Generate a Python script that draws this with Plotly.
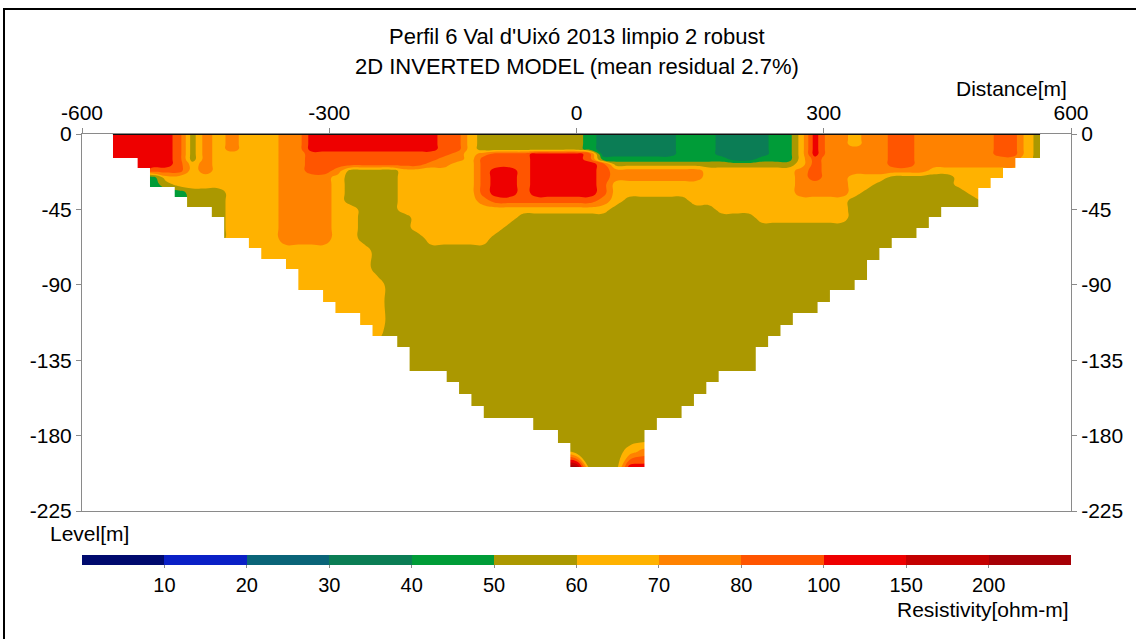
import numpy as np
import plotly.graph_objects as go

# ---------------- data ----------------
title_1 = "Perfil 6 Val d'Uixó 2013 limpio 2 robust"
title_2 = "2D INVERTED MODEL (mean residual 2.7%)"

x_ticks = [-600, -300, 0, 300, 600]
x_ticktext = ["-600", "-300", "0", "300", "600"]
y_ticks = [0, -45, -90, -135, -180, -225]
y_ticktext = ["0", "-45", "-90", "-135", "-180", "-225"]

model_x_min, model_x_max = -562.5, 562.5
n_cols = 71
depths = [0, 3, 6, 9, 12, 15, 18, 22, 26, 30, 35, 40, 45, 50, 56, 62, 70, 80,
          90, 100, 115, 130, 150, 170, 182, 190, 199]

# resistivity (ohm-m) read per grid node, coded by colour band
code_rho = {'s': 35, 'g': 45, 'o': 55, 'a': 65, 'O': 75, 'r': 90,
            'R': 125, 'D': 175, 'K': 225}
O5 = "oooooooooo"
rows = [
    "RRRRRroOaO" "aaaOORRRRR" "RRRRRrraoo" "oooooogsss" "sssgggssss" "ggaROOaOOr" "rOOOOOOrra" "o",
    "RRRRRroOaO" "aaaOORRRRR" "RRRRRrraoo" "oooooogsss" "sssgggssss" "ggaROOaOOr" "rOOOOOOrra" "o",
    "RRRRRroOaO" "aaaOORRRRR" "RRRRRrraoo" "oooooogsss" "sssgggssss" "ggaROOaOOr" "rOOOOOOrra" "o",
    "RRRRRroOaO" "aaaOORRRRR" "RRRRRrraoo" "oooooogsss" "sssgggssss" "ggaROOOOOr" "rOOOOOOrra" "o",
    "RRRRRroOaa" "aaaOOrrrrr" "rrrrrrOaOr" "rrRRRRrsss" "sssgggssss" "ggaROOOOOr" "rOOOOOOrra" "o",
    "RRRRRroOaa" "aaaOOrrrrr" "rrrrrOOarr" "rrRRRRrggg" "gggggggssg" "ggarOOOOOr" "rOOOOOOOOa" "o",
    "RRRRRraOaa" "aaaOOrrrrr" "rrrrOOaarr" "rrRRRRRroo" "oooooooooo" "ooarOOOOOr" "rOOOOOOOOa" "a",
    "RRRrrraOaa" "aaaOOrrOoo" "ooaaaaaarR" "RrRRRRRrOO" "OOOOOaaaaa" "aaOrOOOOOO" "OOaaaaaaaa" "a",
    "rrggaaaaaa" "aaaOOOOaoo" "ooaaaaaarR" "RrRRRRRrOO" "OOOOOaaaaa" "aaOrOOaaao" "ooooaaaaaa" "a",
    "ggggoaaaaa" "aaaOOOOaoo" "ooaaaaaarR" "RrRRRRRraa" "aaaaaaaaaa" "aaOOOOaaoo" "ooooaaaaaa" "a",
    "ooogggoooa" "aaaOOOOaoo" "ooaaaaaarR" "RrRRRRRraa" "aaaaaaaaaa" "aaOOOOaooo" "oooooaaaaa" "a",
    "ooooogoooa" "aaaOOOOaoo" "ooaaaaaaOr" "rrrrrrrOao" "ooooaaaaaa" "aaaaaaoooo" "ooooooaaaa" "a",
    "oooooooooa" "aaaOOOOaao" "ooaaaaaaaa" "aaaaaaaaoo" "ooooooaaaa" "aaaaaaoooo" "oooooooooo" "o",
    "oooooooooa" "aaaOOOOaao" "oooaaaaaaa" "aooooooooo" "oooooooooa" "aaaaaaoooo" "oooooooooo" "o",
    "oooooooooa" "aaaOOOOaao" "oooaaaaaaa" "oooooooooo" "oooooooooo" "oooooooooo" "oooooooooo" "o",
    "oooooooooa" "aaaOOOOaao" "ooooaaaaao" "oooooooooo" "oooooooooo" "oooooooooo" "oooooooooo" "o",
    "aaaaaaaaaa" "aaaaaaaaaa" + O5 * 5 + "o",
    "aaaaaaaaaa" "aaaaaaaaaa" + O5 * 5 + "o",
    "aaaaaaaaaa" "aaaaaaaaaa" "aooooooooo" + O5 * 4 + "o",
    "aaaaaaaaaa" "aaaaaaaaaa" "aooooooooo" + O5 * 4 + "o",
    "aaaaaaaaaa" "aaaaaaaaaa" "aooooooooo" + O5 * 4 + "o",
    O5 * 7 + "o",
    O5 * 7 + "o",
    O5 * 7 + "o",
    O5 * 7 + "o",
    O5 * 3 + "oooooooooa" "OOoooooooo" + O5 * 2 + "o",
    O5 * 3 + "ooooKKoooR" "RRoooooooo" + O5 * 2 + "o",
]

# colour classes
band_edges = [0, 10, 20, 30, 40, 50, 60, 70, 80, 100, 150, 200, 250]
band_colors = ["#000a6e", "#0a20c6", "#0a6478", "#0b7d55", "#009c38", "#ab9800",
               "#ffb200", "#ff8200", "#ff5500", "#ee0000", "#c40000", "#a60006"]
cbar_ticktext = ["10", "20", "30", "40", "50", "60", "70", "80", "100", "150", "200"]

# stepped lower limit of the model section
step_edges = [-562.5, -532.5, -517.5, -487.5, -472.5, -442.5, -427.5, -397.5, -382.5,
              -352.5, -337.5, -307.5, -292.5, -262.5, -247.5, -217.5, -202.5, -157.5,
              -142.5, -127.5, -112.5, -52.5, -22.5, -7.5, 82.5, 97.5, 127.5, 142.5,
              157.5, 172.5, 217.5, 232.5, 247.5, 262.5, 292.5, 307.5, 337.5, 352.5,
              367.5, 382.5, 412.5, 427.5, 442.5, 487.5, 502.5, 517.5, 532.5, 562.5]
step_depths = [14.3, 20.3, 31.6, 37.6, 43.6, 49.5, 62.1, 68.0, 74.6, 80.6, 93.1, 100.3,
               106.8, 114.0, 120.6, 127.1, 141.4, 148.0, 155.2, 162.3, 169.5, 176.7,
               184.4, 198.7, 176.7, 169.5, 162.3, 155.2, 148.0, 141.4, 127.1, 120.6,
               114.0, 106.8, 100.3, 93.1, 87.1, 75.2, 68.0, 62.1, 56.1, 49.5, 43.6,
               32.2, 26.3, 20.3, 14.3]

# ---------------- build ----------------
for r in rows:
    assert len(r) == n_cols, len(r)
assert len(rows) == len(depths)
assert len(step_edges) == len(step_depths) + 1

xs = np.linspace(model_x_min, model_x_max, n_cols)
ys = -np.array(depths, dtype=float)
rho = np.array([[code_rho[c] for c in r] for r in rows], dtype=float)
z_idx = np.interp(rho, band_edges, np.arange(len(band_edges)))

nb = len(band_colors)
colorscale = []
for i, c in enumerate(band_colors):
    colorscale.append([i / nb, c])
    colorscale.append([(i + 1) / nb, c])

FONT = "Liberation Sans, Arial, sans-serif"
GRAY = "#8a8a8a"

# plot area in pixels
L, R, T, B = 82, 1071, 134, 511
W, H = R - L, B - T


def px_x(p):
    return (p - L) / W


def px_y(p):
    return (B - p) / H


fig = go.Figure()
fig.add_trace(go.Contour(
    x=xs, y=ys, z=z_idx,
    autocontour=False,
    contours=dict(start=1, end=nb - 1, size=1, coloring="fill", showlines=False),
    line=dict(width=0, smoothing=1.3),
    colorscale=colorscale, zmin=0, zmax=nb,
    hoverinfo="skip",
    colorbar=dict(
        orientation="h", x=0.5, xanchor="center", len=1.0, lenmode="fraction",
        y=px_y(555), yanchor="top", thickness=10, xpad=0, ypad=0,
        outlinewidth=0,
        tickmode="array", tickvals=list(range(1, nb)), ticktext=cbar_ticktext,
        ticks="outside", ticklen=3, tickcolor=GRAY,
        tickfont=dict(family=FONT, size=20, color="black"),
    ),
))

# white mask outside the stepped section
mx = [-600, -600, 600, 600, model_x_max]
my = [0, -225, -225, 0, 0]
for i in range(len(step_depths) - 1, -1, -1):
    mx += [step_edges[i + 1], step_edges[i]]
    my += [-step_depths[i], -step_depths[i]]
mx += [model_x_min, -600]
my += [0, 0]
fig.add_trace(go.Scatter(x=mx, y=my, mode="lines", fill="toself", fillcolor="white",
                         line=dict(width=0, color="white"), hoverinfo="skip",
                         showlegend=False))

# surface line (on the mirrored axis so that the right axis is drawn)
fig.add_trace(go.Scatter(x=[model_x_min, model_x_max], y=[0, 0], mode="lines",
                         line=dict(color="#111111", width=2), yaxis="y2",
                         hoverinfo="skip", showlegend=False))

axis_common = dict(showgrid=False, zeroline=False, showline=True, linecolor=GRAY,
                   linewidth=1, ticks="outside", ticklen=5, tickcolor=GRAY,
                   tickfont=dict(family=FONT, size=21, color="black"))

fig.update_layout(
    width=1136, height=639,
    margin=dict(l=L, r=1136 - R, t=T, b=639 - B, pad=0),
    paper_bgcolor="white", plot_bgcolor="white",
    showlegend=False,
    font=dict(family=FONT, size=21, color="black"),
    xaxis=dict(range=[-600, 600], side="top", tickvals=x_ticks, ticktext=x_ticktext,
               mirror=True, **axis_common),
    yaxis=dict(range=[-225, 0], tickvals=y_ticks, ticktext=y_ticktext, **axis_common),
    yaxis2=dict(range=[-225, 0], tickvals=y_ticks, ticktext=y_ticktext,
                overlaying="y", side="right", **axis_common),
    annotations=[
        dict(text=title_1, x=0.5, y=px_y(37), xref="paper", yref="paper",
             showarrow=False, xanchor="center", yanchor="middle",
             font=dict(family=FONT, size=22)),
        dict(text=title_2, x=0.5, y=px_y(66), xref="paper", yref="paper",
             showarrow=False, xanchor="center", yanchor="middle",
             font=dict(family=FONT, size=22)),
        dict(text="Distance[m]", x=px_x(1069), y=px_y(88), xref="paper", yref="paper",
             showarrow=False, xanchor="right", yanchor="middle",
             font=dict(family=FONT, size=21)),
        dict(text="Level[m]", x=px_x(48), y=px_y(533), xref="paper", yref="paper",
             showarrow=False, xanchor="left", yanchor="middle",
             font=dict(family=FONT, size=21)),
        dict(text="Resistivity[ohm-m]", x=px_x(1071), y=px_y(609), xref="paper",
             yref="paper", showarrow=False, xanchor="right", yanchor="middle",
             font=dict(family=FONT, size=21)),
    ],
    shapes=[
        dict(type="rect", xref="paper", yref="paper", x0=px_x(4), x1=px_x(1145),
             y0=px_y(650), y1=px_y(9), line=dict(color="black", width=2),
             fillcolor="rgba(0,0,0,0)", layer="above"),
    ],
)

fig.write_html("out.html")
